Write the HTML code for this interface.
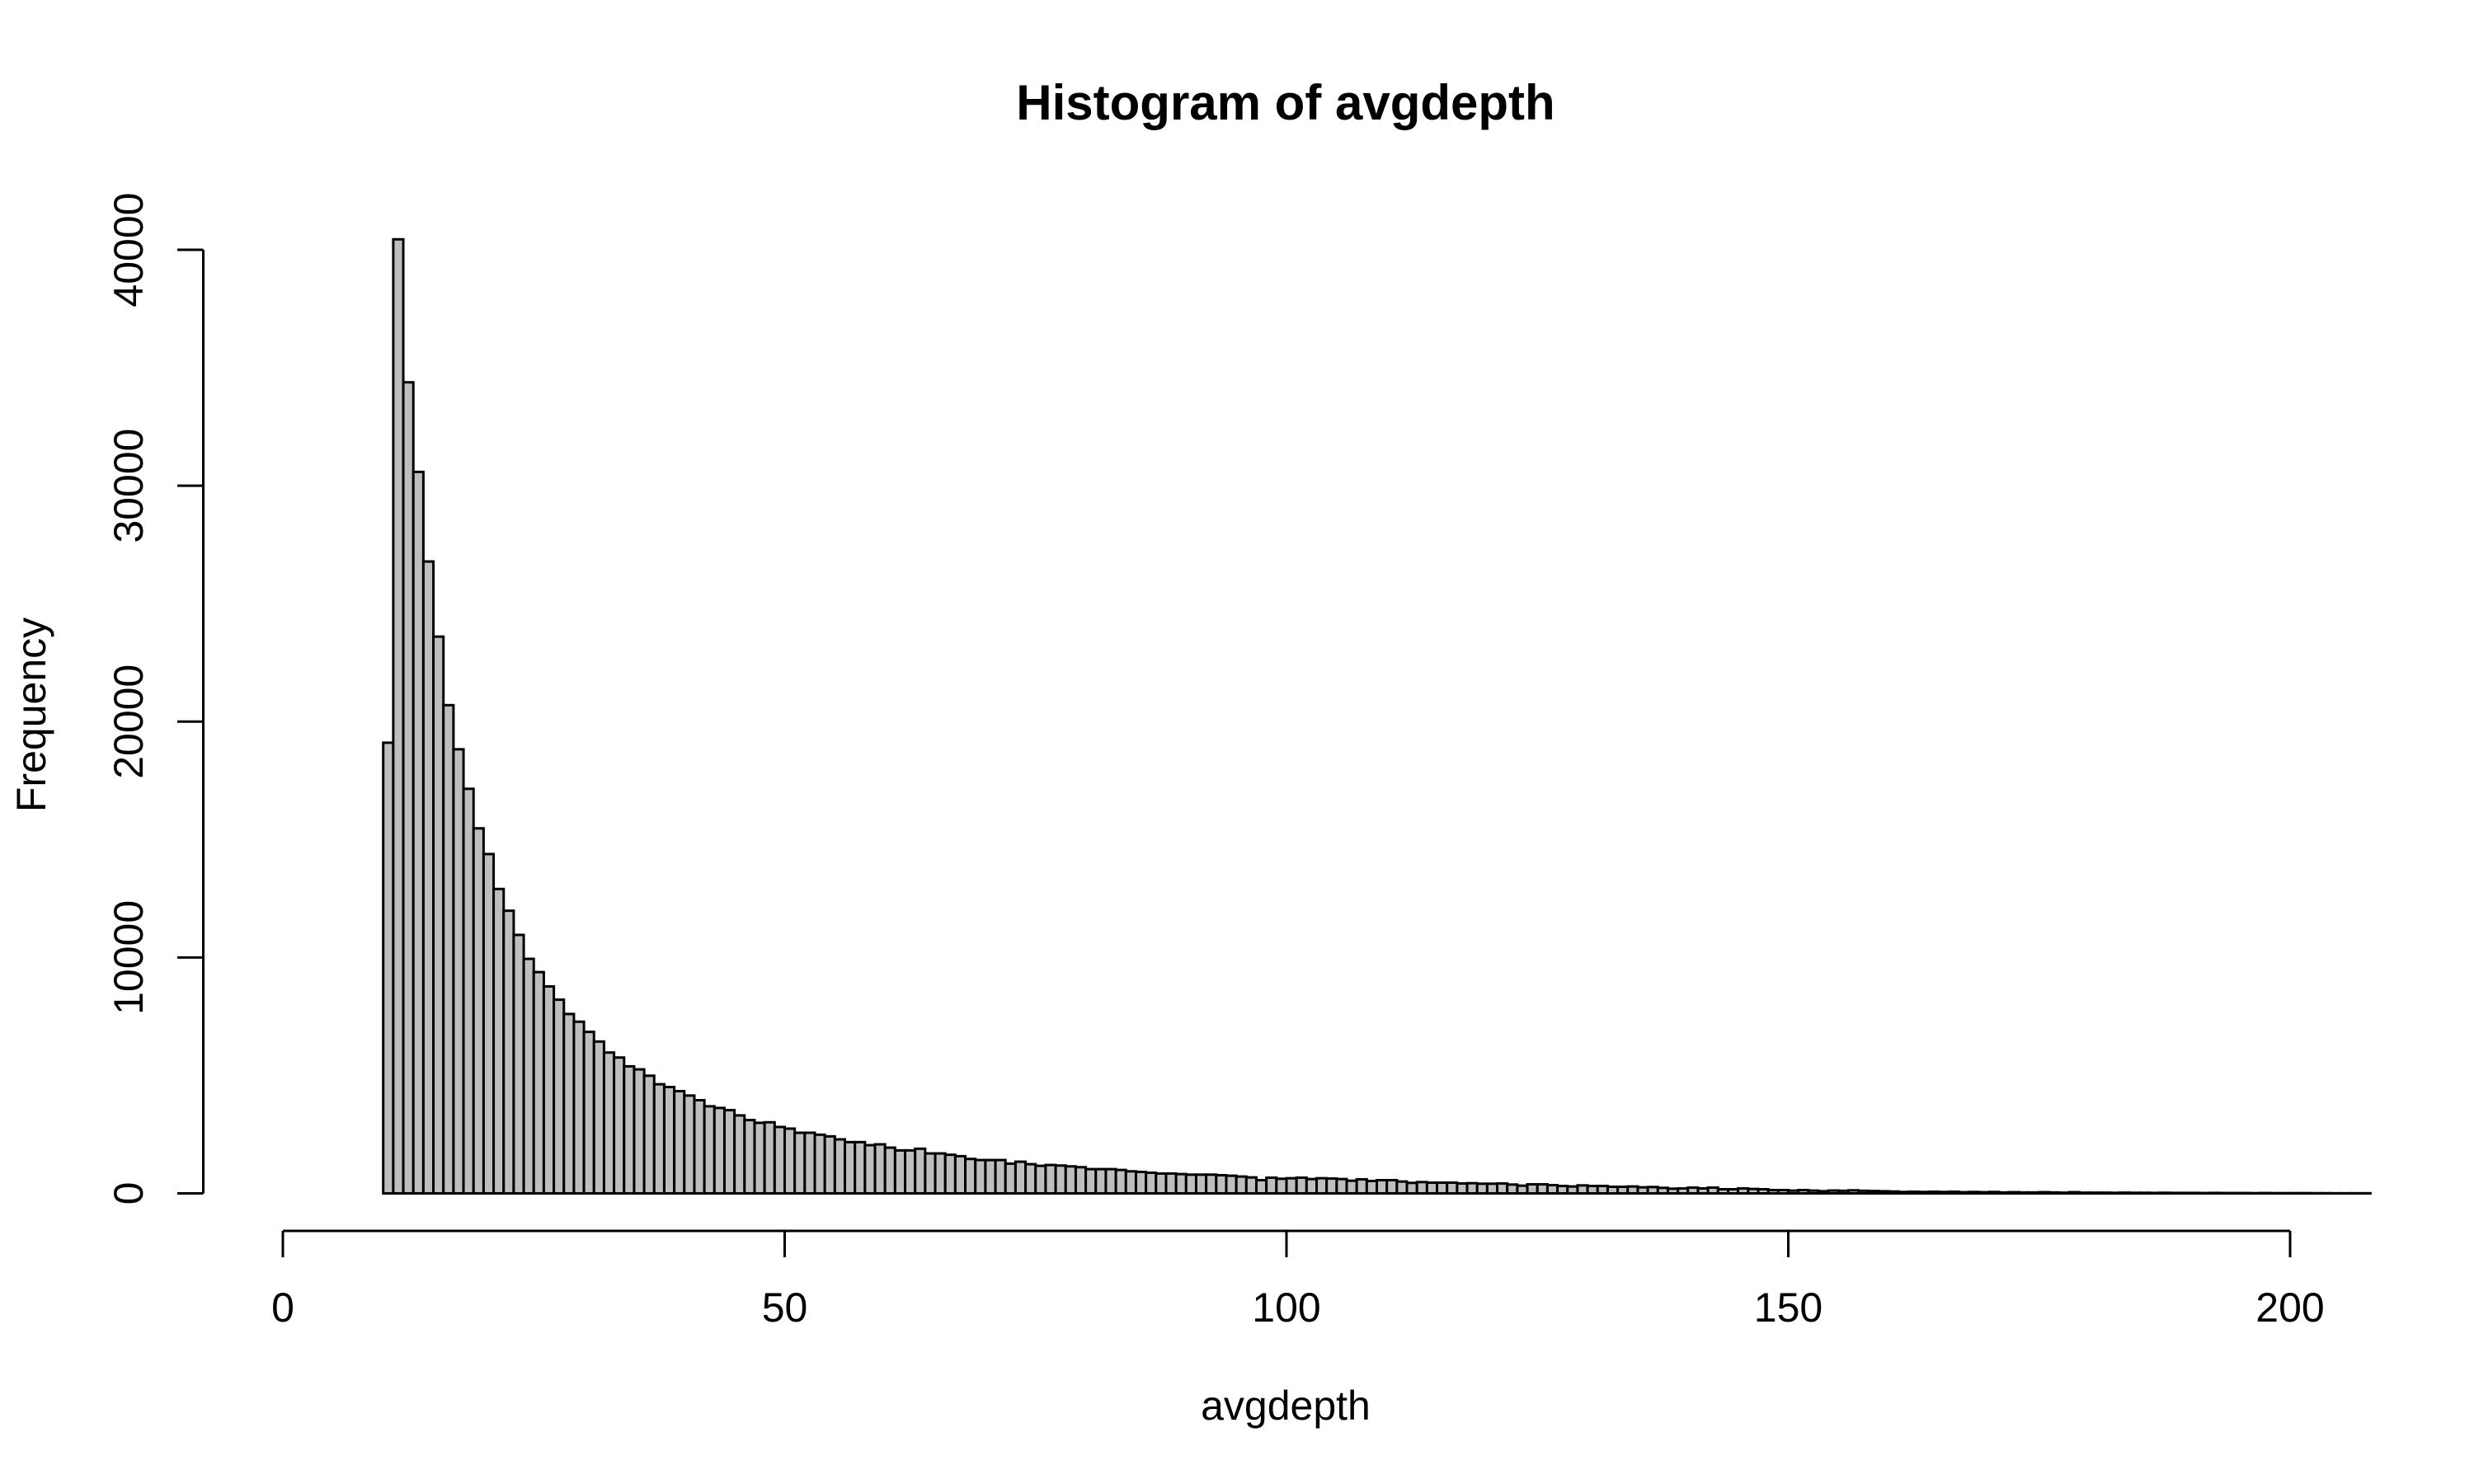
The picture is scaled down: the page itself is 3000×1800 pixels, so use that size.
<!DOCTYPE html>
<html><head><meta charset="utf-8"><style>
html,body{margin:0;padding:0;background:#fff}
svg{display:block}
text{font-family:"Liberation Sans",Arial,sans-serif;fill:#000}
</style></head>
<body>
<svg id="chart" width="3000" height="1800" viewBox="0 0 3000 1800" xmlns="http://www.w3.org/2000/svg">
<rect x="0" y="0" width="3000" height="1800" fill="#fff"/>
<text x="1559" y="145" font-size="60" font-weight="bold" text-anchor="middle">Histogram of avgdepth</text>
<text x="1559" y="1722" font-size="50" text-anchor="middle">avgdepth</text>
<text transform="translate(55,867) rotate(-90)" font-size="50" text-anchor="middle">Frequency</text>
<g id="bars"></g>
<g id="xaxis"></g>
<g id="yaxis"></g>
</svg>
<script>
const binStart = 10;
const binWidth = 1;
const counts = [
19106,40447,34385,30587,26788,23603,20698,18827,17151,15475,
14385,12905,11983,10958,9942,9381,8773,8213,7605,7278,
6846,6437,5970,5759,5386,5257,4988,4626,4509,4334,
4147,3949,3692,3621,3528,3306,3107,2991,3014,2815,
2745,2570,2570,2488,2418,2290,2173,2173,2044,2079,
1939,1822,1822,1893,1694,1694,1636,1577,1460,1413,
1413,1413,1262,1343,1238,1168,1203,1180,1145,1110,
1028,1028,1028,993,935,911,876,841,841,818,
794,794,794,771,748,713,677,560,666,619,
642,666,607,642,630,607,537,596,525,560,
560,502,444,479,455,455,455,420,432,409,
409,420,374,327,385,385,350,315,292,339,
315,315,280,280,292,257,269,234,199,210,
245,210,245,175,175,210,187,175,140,140,
117,140,117,93,120,110,130,110,100,90,
80,60,70,60,70,60,70,50,60,50,
60,40,50,40,40,50,40,30,50,30,
30,30,25,30,25,25,20,25,20,20,
20,15,20,15,15,15,10,15,10,10,
10,10,8,8,5,5,5,5
];
const xTicks = [0,50,100,150,200];
const yTicks = [0,10000,20000,30000,40000];

const NS = "http://www.w3.org/2000/svg";
function X(v){ return 343 + v * 12.17; }
function Y(v){ return 1447.5 - v * 0.028611; }
function mk(tag, attrs, parent){ const e=document.createElementNS(NS,tag); for(const k in attrs) e.setAttribute(k,attrs[k]); parent.appendChild(e); return e; }

const bars = document.getElementById('bars');
counts.forEach((c,i)=>{
  const x0 = X(binStart + i*binWidth), x1 = X(binStart + (i+1)*binWidth);
  const r = mk('rect',{x:x0,y:Y(c),width:x1-x0,height:Y(0)-Y(c),fill:'#bebebe',stroke:'#000','stroke-width':3},bars);
  
  
});

const xa = document.getElementById('xaxis');
const xl = mk('line',{x1:X(xTicks[0]),x2:X(xTicks[xTicks.length-1]),y1:1493,y2:1493,stroke:'#000','stroke-width':3},xa);


xTicks.forEach(t=>{
  const tk = mk('line',{x1:X(t),x2:X(t),y1:1493,y2:1525,stroke:'#000','stroke-width':3},xa);
  
  
  const lb = mk('text',{x:X(t),y:1603,'font-size':50,'text-anchor':'middle'},xa);
  lb.textContent = String(t);
  
  
});

const ya = document.getElementById('yaxis');
const yl = mk('line',{x1:246.5,x2:246.5,y1:Y(yTicks[0]),y2:Y(yTicks[yTicks.length-1]),stroke:'#000','stroke-width':3},ya);


yTicks.forEach(t=>{
  const tk = mk('line',{x1:215,x2:246.5,y1:Y(t),y2:Y(t),stroke:'#000','stroke-width':3},ya);
  
  
  const lb = mk('text',{transform:`translate(173,${Y(t)}) rotate(-90)`,'font-size':50,'text-anchor':'middle'},ya);
  lb.textContent = String(t);
  
  
});
</script>
</body></html>
